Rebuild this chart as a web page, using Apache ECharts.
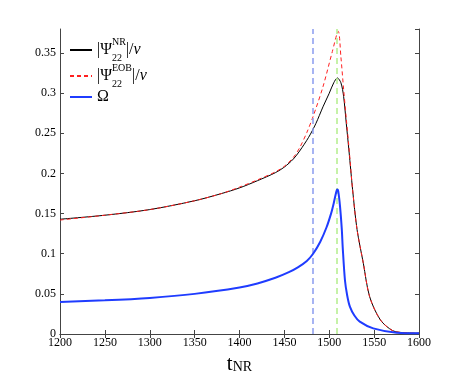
<!DOCTYPE html>
<html>
<head>
<meta charset="utf-8">
<script src="https://cdn.jsdelivr.net/npm/echarts@6/dist/echarts.min.js"></script>
<style>
  html, body { margin: 0; padding: 0; background: #fff; }
  #main { width: 463px; height: 377px; }
</style>
</head>
<body>
<div id="main"></div>
<script>
// NR amplitude |Psi22|/nu
var nrT = [1200, 1250, 1300, 1350, 1380, 1400, 1420, 1440, 1450, 1460, 1467, 1477, 1485, 1493, 1500, 1505, 1509, 1513, 1516, 1519, 1522, 1526, 1531, 1538, 1545, 1557, 1571, 1585, 1600];
var nrV = [0.143, 0.148, 0.155, 0.166, 0.175, 0.182, 0.191, 0.201, 0.208, 0.218, 0.228, 0.245, 0.262, 0.283, 0.300, 0.313, 0.319, 0.313, 0.296, 0.262, 0.228, 0.180, 0.130, 0.088, 0.0465, 0.0175, 0.004, 0.0015, 0.001];

// EOB amplitude
var eobT = [1200, 1250, 1300, 1350, 1380, 1400, 1420, 1440, 1450, 1460, 1467, 1475, 1482, 1493, 1503, 1510, 1513, 1516, 1519, 1522, 1526, 1531, 1538, 1545, 1557, 1571, 1585, 1600];
var eobV = [0.142, 0.148, 0.155, 0.166, 0.175, 0.183, 0.192, 0.202, 0.209, 0.220, 0.232, 0.251, 0.271, 0.308, 0.350, 0.377, 0.345, 0.305, 0.268, 0.232, 0.180, 0.130, 0.088, 0.0465, 0.0175, 0.004, 0.0015, 0.001];

// orbital frequency Omega
var omT = [1200, 1250, 1300, 1350, 1400, 1420, 1440, 1455, 1465, 1475, 1482, 1490, 1497, 1502, 1505, 1508, 1509, 1510, 1512, 1514, 1515, 1517.5, 1520, 1523, 1528, 1534, 1549, 1575, 1600];
var omV = [0.040, 0.042, 0.045, 0.050, 0.058, 0.063, 0.070, 0.077, 0.083, 0.091, 0.100, 0.115, 0.133, 0.150, 0.163, 0.178, 0.180, 0.178, 0.159, 0.130, 0.108, 0.067, 0.048, 0.034, 0.023, 0.0154, 0.007, 0.0017, 0.001];

// vertical markers
var markT = [1482, 1508];
var markColors = ['#8a9cf0', '#b4ee8c'];

function pairs(t, v) {
    var out = [];
    for (var i = 0; i < t.length; i++) out.push([t[i], v[i]]);
    return out;
}

var serif = 'Liberation Serif';
var chart = echarts.init(document.getElementById('main'));

var legendRich = {
    t: {fontFamily: serif, fontSize: 16, color: '#000', lineHeight: 26},
    p: {fontFamily: serif, fontSize: 10, color: '#000', verticalAlign: 'top', lineHeight: 12},
    s: {fontFamily: serif, fontSize: 10, color: '#000', verticalAlign: 'bottom', lineHeight: 12, width: 0},
    i: {fontFamily: serif, fontSize: 16, color: '#000', fontStyle: 'italic', lineHeight: 26},
    o: {fontFamily: serif, fontSize: 16, color: '#000', lineHeight: 18}
};

var option = {
    animation: false,
    backgroundColor: '#fff',
    grid: {left: 60, right: 44, top: 29, bottom: 43, outerBoundsMode: 'none', containLabel: false},
    legend: {
        orient: 'vertical',
        left: 64,
        top: 32,
        itemGap: 0,
        itemWidth: 22,
        itemHeight: 2,
        itemStyle: {color: 'transparent', borderWidth: 0, opacity: 0},
        data: ['nr', 'eob', 'om'],
        formatter: function (name) {
            if (name === 'nr') return '{t||Ψ}{s|22}{p|NR}{t||/}{i|ν}';
            if (name === 'eob') return '{t||Ψ}{s|22}{p|EOB}{t||/}{i|ν}';
            return '{o|Ω}';
        },
        textStyle: {rich: legendRich}
    },
    xAxis: [
        {
            type: 'value', min: 1200, max: 1600, interval: 50,
            name: '{t|t}{s|NR}',
            nameLocation: 'middle',
            nameGap: 11,
            nameTextStyle: {
                rich: {
                    t: {fontFamily: serif, fontSize: 21, color: '#000', lineHeight: 20},
                    s: {fontFamily: serif, fontSize: 14, color: '#000', verticalAlign: 'bottom', lineHeight: 12}
                }
            },
            axisLine: {lineStyle: {color: '#444', width: 1}},
            axisTick: {inside: true, length: 4, lineStyle: {color: '#444'}},
            axisLabel: {fontFamily: serif, fontSize: 12, color: '#000', margin: 3,
                formatter: function (v) { return String(v); }},
            splitLine: {show: false}
        },
        {
            type: 'value', min: 1200, max: 1600, interval: 50, position: 'top',
            axisLine: {lineStyle: {color: '#444', width: 1}},
            axisTick: {inside: true, length: 4, lineStyle: {color: '#444'}},
            axisLabel: {show: false},
            splitLine: {show: false}
        }
    ],
    yAxis: [
        {
            type: 'value', min: 0, max: 0.38, interval: 0.05,
            axisLine: {show: true, lineStyle: {color: '#444', width: 1}},
            axisTick: {show: true, inside: true, length: 4, lineStyle: {color: '#444'}},
            axisLabel: {fontFamily: serif, fontSize: 12, color: '#000', margin: 4,
                showMaxLabel: false},
            splitLine: {show: false}
        },
        {
            type: 'value', min: 0, max: 0.38, interval: 0.05, position: 'right',
            axisLine: {show: true, lineStyle: {color: '#444', width: 1}},
            axisTick: {show: true, inside: true, length: 4, lineStyle: {color: '#444'}},
            axisLabel: {show: false},
            splitLine: {show: false}
        }
    ],
    series: [
        {
            name: 'nr', type: 'line', symbol: 'none', smooth: 0.3,
            data: pairs(nrT, nrV),
            itemStyle: {color: '#000'},
            lineStyle: {color: '#000', width: 1},
            z: 3,
            markLine: {
                silent: true, symbol: 'none', label: {show: false},
                data: [
                    {xAxis: markT[0], lineStyle: {color: markColors[0], type: [6, 4], width: 1.5}},
                    {xAxis: markT[1], lineStyle: {color: markColors[1], type: [6, 4], width: 1.5}}
                ]
            }
        },
        {
            name: 'eob', type: 'line', symbol: 'none', smooth: 0.3,
            data: pairs(eobT, eobV),
            itemStyle: {color: '#ff2020'},
            lineStyle: {color: '#ff2020', width: 1, type: [4, 3]},
            z: 4
        },
        {
            name: 'om', type: 'line', symbol: 'none', smooth: 0.3,
            data: pairs(omT, omV),
            itemStyle: {color: '#1f3cff'},
            lineStyle: {color: '#1f3cff', width: 2},
            z: 5
        }
    ]
};
chart.setOption(option);
</script>
</body>
</html>
